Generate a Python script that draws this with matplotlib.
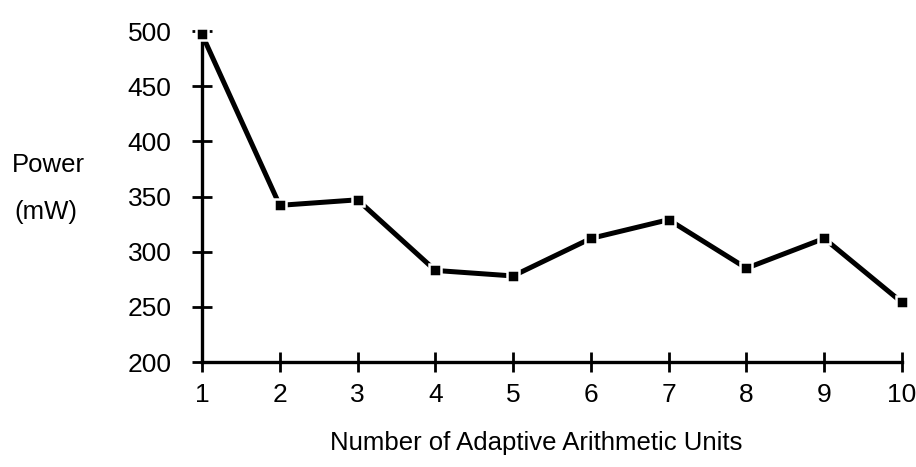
import matplotlib.pyplot as plt

plt.rcParams['font.family'] = ['Liberation Sans', 'DejaVu Sans']

# data
units = [1, 2, 3, 4, 5, 6, 7, 8, 9, 10]
power_mw = [497, 342, 347, 283, 278, 312, 329, 285, 312, 254]
y_ticks = [200, 250, 300, 350, 400, 450, 500]

fig = plt.figure(figsize=(9.16, 4.67), dpi=100)
ax = fig.add_axes([0.2205, 0.2248, 0.7642, 0.7088])

ax.plot(units, power_mw, color='black', linewidth=3.6, marker='s',
        markersize=8.5, markerfacecolor='black', markeredgecolor='white',
        markeredgewidth=1.8, clip_on=False, zorder=3)

ax.set_xlim(1, 10)
ax.set_ylim(200, 500)
ax.set_xticks(units)
ax.set_yticks(y_ticks)

for side in ['top', 'right']:
    ax.spines[side].set_visible(False)
for side in ['left', 'bottom']:
    ax.spines[side].set_linewidth(2.4)

ax.tick_params(axis='both', direction='inout', length=14, width=2,
               labelsize=19)
ax.tick_params(axis='x', pad=8)
ax.tick_params(axis='y', pad=15)

fig.text(12 / 916, 1 - 165 / 467, 'Power', fontsize=18.5, ha='left', va='center')
fig.text(14 / 916, 1 - 212 / 467, '(mW)', fontsize=18.5, ha='left', va='center')
fig.text(536 / 916, 1 - 443 / 467, 'Number of Adaptive Arithmetic Units',
         fontsize=18.5, ha='center', va='center')

fig.savefig('out.png', dpi=100)
